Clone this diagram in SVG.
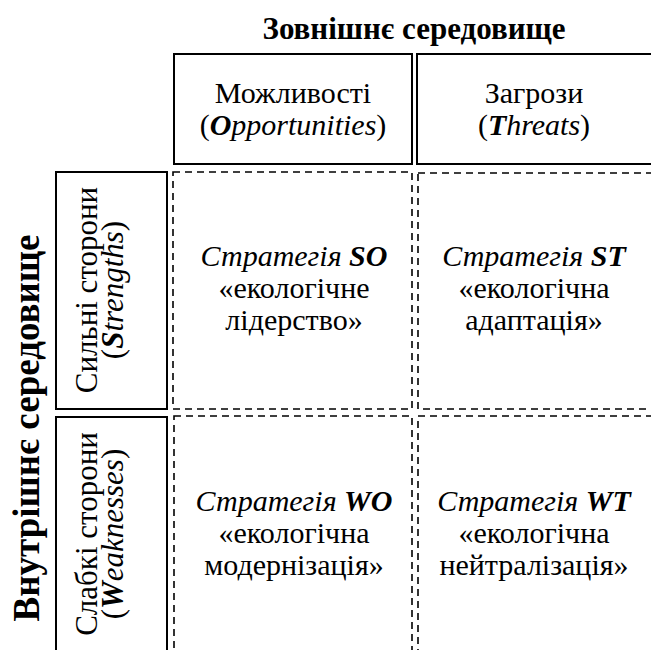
<svg xmlns="http://www.w3.org/2000/svg" width="651" height="650" viewBox="0 0 651 650">
  <style>
    .b { font-weight: bold; }
    .i { font-style: italic; }
    .bi { font-weight: bold; font-style: italic; }
    .solid { fill: #fff; stroke: #000; stroke-width: 2; }
    .dash { fill: none; stroke: #000; stroke-width: 1.6; stroke-dasharray: 7 5; }
  </style>

  <rect width="651" height="650" fill="#fff"/>

  <g font-family="'Liberation Serif', serif" font-size="30" fill="#000">
    <!-- axis titles -->
    <g id="title-external">
      <text x="414" y="39" text-anchor="middle" class="b" font-size="31">Зовнішнє середовище</text>
    </g>
    <g id="title-internal">
      <text transform="translate(39,428) rotate(-90)" text-anchor="middle" class="b" font-size="37">Внутрішнє середовище</text>
    </g>

    <!-- column headers -->
    <g id="opportunities">
      <rect class="solid" x="174" y="54" width="238" height="110"/>
      <text x="293" y="103" text-anchor="middle">Можливості</text>
      <text x="293" y="135" text-anchor="middle">(<tspan class="bi">O</tspan><tspan class="i">pportunities</tspan>)</text>
    </g>
    <g id="threats">
      <rect class="solid" x="417" y="54" width="236" height="110"/>
      <text x="534" y="103" text-anchor="middle">Загрози</text>
      <text x="534" y="135" text-anchor="middle">(<tspan class="bi">T</tspan><tspan class="i">hreats</tspan>)</text>
    </g>

    <!-- row headers -->
    <g id="strengths">
      <rect class="solid" x="56" y="172" width="111" height="237"/>
      <g transform="translate(110,290) rotate(-90)" font-size="31">
        <text x="0" y="-13" text-anchor="middle">Сильні сторони</text>
        <text x="0" y="13" text-anchor="middle">(<tspan class="bi">S</tspan><tspan class="i">trengths</tspan>)</text>
      </g>
    </g>
    <g id="weaknesses">
      <rect class="solid" x="56" y="417" width="111" height="236"/>
      <g transform="translate(110,534) rotate(-90)" font-size="31">
        <text x="0" y="-13" text-anchor="middle">Слабкі сторони</text>
        <text x="0" y="13" text-anchor="middle">(<tspan class="bi">W</tspan><tspan class="i">eaknesses</tspan>)</text>
      </g>
    </g>

    <!-- strategy cells -->
    <g id="so">
      <rect class="dash" x="173" y="172" width="239" height="237"/>
      <text x="294" y="266" text-anchor="middle"><tspan class="i">Стратегія </tspan><tspan class="bi">SO</tspan></text>
      <text x="294" y="298" text-anchor="middle">«екологічне</text>
      <text x="294" y="330" text-anchor="middle">лідерство»</text>
    </g>
    <g id="st">
      <rect class="dash" x="418" y="173" width="236" height="236"/>
      <text x="534" y="266" text-anchor="middle"><tspan class="i">Стратегія </tspan><tspan class="bi">ST</tspan></text>
      <text x="534" y="298" text-anchor="middle">«екологічна</text>
      <text x="534" y="330" text-anchor="middle">адаптація»</text>
    </g>
    <g id="wo">
      <rect class="dash" x="174" y="416" width="238" height="238"/>
      <text x="294" y="511" text-anchor="middle"><tspan class="i">Стратегія </tspan><tspan class="bi">WO</tspan></text>
      <text x="294" y="543" text-anchor="middle">«екологічна</text>
      <text x="294" y="575" text-anchor="middle">модернізація»</text>
    </g>
    <g id="wt">
      <rect class="dash" x="418" y="416" width="236" height="238"/>
      <text x="534" y="511" text-anchor="middle"><tspan class="i">Стратегія </tspan><tspan class="bi">WT</tspan></text>
      <text x="534" y="543" text-anchor="middle">«екологічна</text>
      <text x="534" y="575" text-anchor="middle">нейтралізація»</text>
    </g>
  </g>

  <g id="connectors"/>
</svg>
